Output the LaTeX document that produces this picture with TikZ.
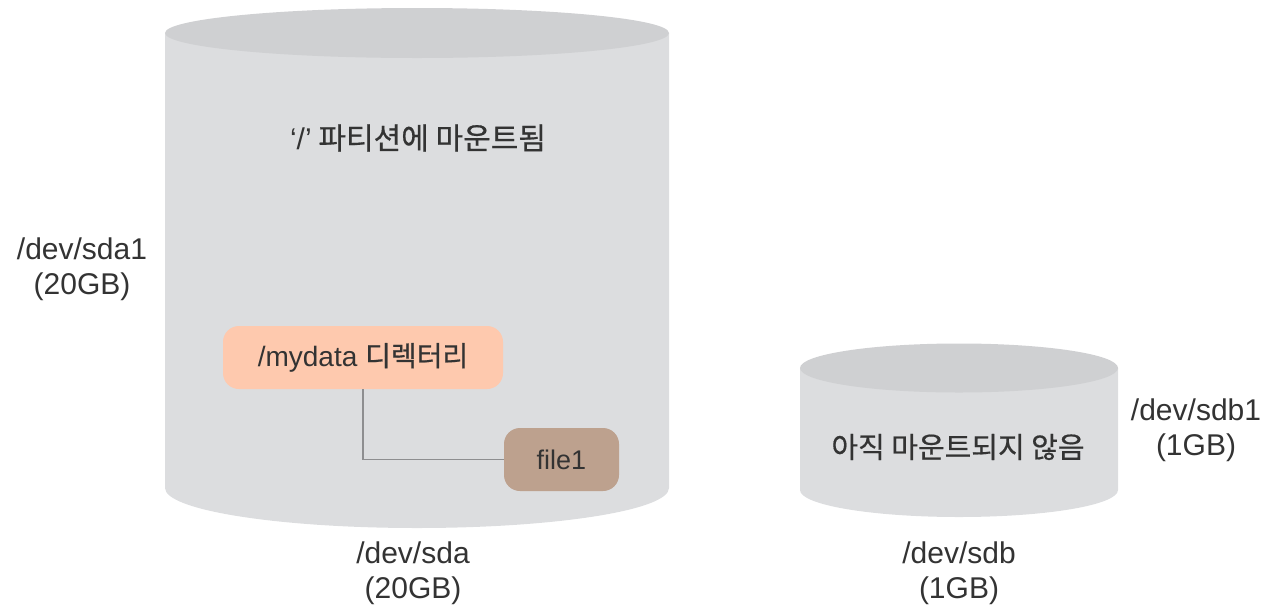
\documentclass[tikz,border=0pt]{standalone}
\usepackage{fontspec}
\setmainfont{Liberation Sans}
\newfontfamily\kr{Noto Sans CJK KR}[FakeBold=0.6]
\definecolor{cylbody}{HTML}{DCDDDF}
\definecolor{cyltop}{HTML}{CFD0D2}
\definecolor{peach}{HTML}{FEC9AE}
\definecolor{tan}{HTML}{BDA18E}
\definecolor{txt}{HTML}{333333}
\definecolor{conn}{HTML}{8E8E90}
\tikzset{
  lbl/.style={text=txt, font=\fontsize{30}{35}\selectfont, align=center, inner sep=0pt},
  krlbl/.style={text=txt, inner sep=0pt},
  dirbox/.style={rectangle, rounded corners=16pt, fill=peach, minimum width=280pt, minimum height=63pt, text=txt, inner sep=0pt},
  filebox/.style={rectangle, rounded corners=16pt, fill=tan, minimum width=115pt, minimum height=63pt, text=txt, inner sep=0pt, font=\fontsize{27}{33}\selectfont},
  link/.style={draw=conn, line width=1.5pt}
}
\begin{document}
\begin{tikzpicture}[x=1pt,y=-1pt]
\useasboundingbox (0,0) rectangle (1286,606);
% big cylinder
\fill[cylbody] (165,33) -- (165,488) arc[start angle=180,end angle=360,x radius=252pt,y radius=40pt] -- (669,33) -- cycle;
\fill[cyltop] (417,33) ellipse[x radius=252pt,y radius=25pt];
% small cylinder
\fill[cylbody] (800,368) -- (800,490) arc[start angle=180,end angle=360,x radius=159pt,y radius=27pt] -- (1118,368) -- cycle;
\fill[cyltop] (959,368) ellipse[x radius=159pt,y radius=24.5pt];
% texts
\node[krlbl, font=\fontsize{30}{34}\selectfont\kr] (root) at (418,138) {{\fontspec{Liberation Sans}‘/’} 파티션에 마운트됨};
\node[krlbl, font=\fontsize{29}{34}\selectfont\kr] (unm) at (958,447) {아직 마운트되지 않음};
\node[dirbox] (mydata) at (363,357.5) {\fontsize{28}{33}\selectfont /mydata {\kr 디렉터리}};
\node[filebox] (file1) at (561.5,459.5) {file1};
\draw[link] (mydata.south) |- (file1.west);
\node[lbl] (sda1) at (82,269) {/dev/sda1\\(20GB)};
\node[lbl] (sdb1) at (1196,430) {/dev/sdb1\\(1GB)};
\node[lbl] (sda) at (413,573) {/dev/sda\\(20GB)};
\node[lbl] (sdb) at (959,573) {/dev/sdb\\(1GB)};
\end{tikzpicture}
\end{document}
